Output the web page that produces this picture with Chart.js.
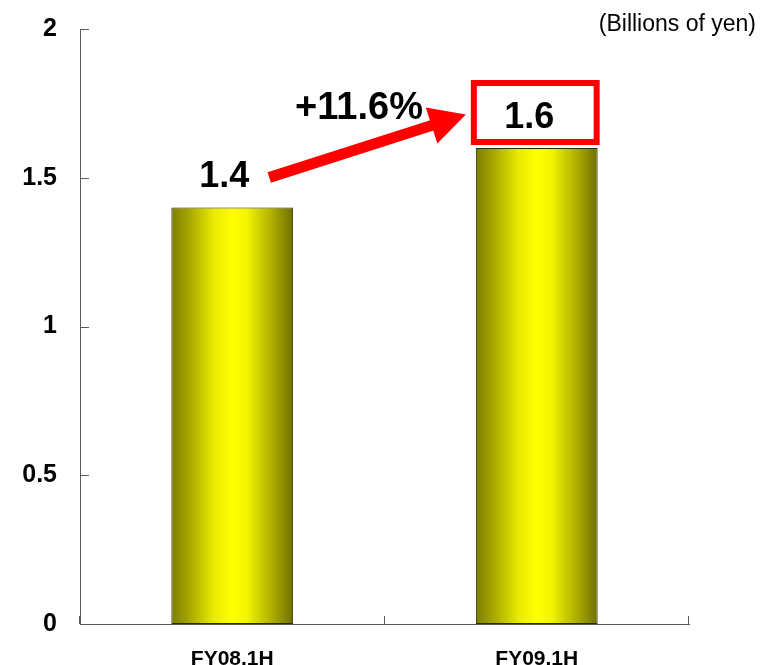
<!DOCTYPE html>
<html>
<head>
<meta charset="utf-8">
<script src="https://cdn.jsdelivr.net/npm/chart.js@4/dist/chart.umd.min.js"></script>
<style>
  html, body { margin: 0; padding: 0; background: #fff; overflow: hidden; }
  #wrap { width: 760px; height: 684px; }
</style>
</head>
<body>
<div id="wrap"><canvas id="salesChart" width="760" height="684"></canvas></div>
<script>
// half-year figures
const categories = ['FY08.1H', 'FY09.1H'];
const sales = [1.4, 1.6];
const yTicks = [0, 0.5, 1, 1.5, 2];
const growthLabel = '+11.6%';
const unitLabel = '(Billions of yen)';

const FONT = "'Liberation Sans', Arial, Helvetica, sans-serif";
const AXIS_COLOR = '#5a5a5a';

// olive -> yellow -> olive shading across each bar
function barGradient(context) {
  const chart = context.chart;
  const x = chart.scales.x;
  if (!x || context.dataIndex === undefined) return '#cccc00';
  const cx = x.getPixelForValue(context.dataIndex);
  const half = (x.getPixelForValue(1) - x.getPixelForValue(0)) * 0.4 / 2;
  if (!isFinite(cx) || !isFinite(half) || half <= 0) return '#cccc00';
  const g = chart.ctx.createLinearGradient(cx - half, 0, cx + half, 0);
  g.addColorStop(0, '#7d7d00');
  g.addColorStop(0.15, '#a8a800');
  g.addColorStop(0.35, '#eaea00');
  g.addColorStop(0.5, '#ffff00');
  g.addColorStop(0.62, '#f4f400');
  g.addColorStop(0.82, '#b0b000');
  g.addColorStop(1, '#6e6e00');
  return g;
}

// tick marks, value labels, growth arrow and unit caption
const decorations = {
  id: 'decorations',
  afterDraw(chart) {
    const { ctx, scales: { x, y } } = chart;
    ctx.save();

    // inner tick marks
    ctx.strokeStyle = AXIS_COLOR;
    ctx.lineWidth = 1;
    ctx.beginPath();
    yTicks.forEach(v => {
      const py = Math.round(y.getPixelForValue(v)) + 0.5;
      ctx.moveTo(x.left, py);
      ctx.lineTo(x.left + 9, py);
    });
    for (let i = 0; i <= categories.length; i++) {
      const px = Math.round(x.getPixelForValue(i - 0.5)) - 0.5;
      ctx.moveTo(px, y.bottom);
      ctx.lineTo(px, y.bottom - 8);
    }
    ctx.stroke();

    const bars = chart.getDatasetMeta(0).data;
    const b0 = bars[0], b1 = bars[1];

    // value above first bar
    ctx.fillStyle = '#000';
    ctx.textAlign = 'center';
    ctx.textBaseline = 'alphabetic';
    ctx.font = 'bold 36px ' + FONT;
    ctx.fillText(sales[0].toFixed(1), b0.x - 8, b0.y - 21);

    // boxed value above second bar
    const boxL = b1.x - b1.width / 2 - 5;
    const boxR = b1.x + b1.width / 2 + 2;
    const boxT = b1.y - 68;
    const boxB = b1.y - 3;
    ctx.strokeStyle = '#ff0000';
    ctx.lineWidth = 6;
    ctx.strokeRect(boxL + 3, boxT + 3, boxR - boxL - 6, boxB - boxT - 6);
    ctx.fillText(sales[1].toFixed(1), (boxL + boxR) / 2 - 6, boxB - 17);

    // growth arrow
    const tx = b0.x + 37, ty = b0.y - 30;
    const hx = boxL - 5, hy = (boxT + boxB) / 2 + 2;
    const ang = Math.atan2(hy - ty, hx - tx);
    const headLen = 36, headHalf = 19;
    const bx = hx - headLen * Math.cos(ang), by = hy - headLen * Math.sin(ang);
    ctx.strokeStyle = '#ff0000';
    ctx.lineWidth = 11;
    ctx.lineCap = 'butt';
    ctx.beginPath();
    ctx.moveTo(tx, ty);
    ctx.lineTo(bx + 2 * Math.cos(ang), by + 2 * Math.sin(ang));
    ctx.stroke();
    ctx.fillStyle = '#ff0000';
    ctx.beginPath();
    ctx.moveTo(hx, hy);
    ctx.lineTo(bx + headHalf * Math.sin(ang), by - headHalf * Math.cos(ang));
    ctx.lineTo(bx - headHalf * Math.sin(ang), by + headHalf * Math.cos(ang));
    ctx.closePath();
    ctx.fill();

    ctx.fillStyle = '#000';
    ctx.font = 'bold 38px ' + FONT;
    ctx.fillText(growthLabel, 359, 119);

    // unit caption
    ctx.font = '23px ' + FONT;
    ctx.textAlign = 'right';
    ctx.fillText(unitLabel, 756, 31);

    ctx.restore();
  }
};

new Chart(document.getElementById('salesChart'), {
  type: 'bar',
  data: {
    labels: categories,
    datasets: [{
      data: sales,
      backgroundColor: barGradient,
      borderColor: '#2a2a00',
      borderWidth: 1,
      borderSkipped: false,
      categoryPercentage: 1,
      barPercentage: 0.4
    }]
  },
  options: {
    responsive: false,
    animation: false,
    layout: { padding: { top: 0, right: 71, left: 0, bottom: 0 } },
    plugins: {
      legend: { display: false },
      tooltip: { enabled: false }
    },
    scales: {
      x: {
        offset: true,
        grid: { display: false, drawTicks: false },
        border: { display: true, color: AXIS_COLOR, width: 1 },
        ticks: {
          padding: 23,
          color: '#000',
          font: { family: FONT, size: 21, weight: 'bold' }
        },
        afterFit(scale) { scale.height = 60; }
      },
      y: {
        min: 0,
        max: 2,
        grid: { display: false, drawTicks: false },
        border: { display: true, color: AXIS_COLOR, width: 1 },
        ticks: {
          stepSize: 0.5,
          padding: 23,
          color: '#000',
          // small line height keeps the top label from pushing the plot down
          font: { family: FONT, size: 25, weight: 'bold', lineHeight: 0.48 },
          callback: v => String(v)
        },
        afterFit(scale) { scale.width = 80; }
      }
    }
  },
  plugins: [decorations]
});
</script>
</body>
</html>
